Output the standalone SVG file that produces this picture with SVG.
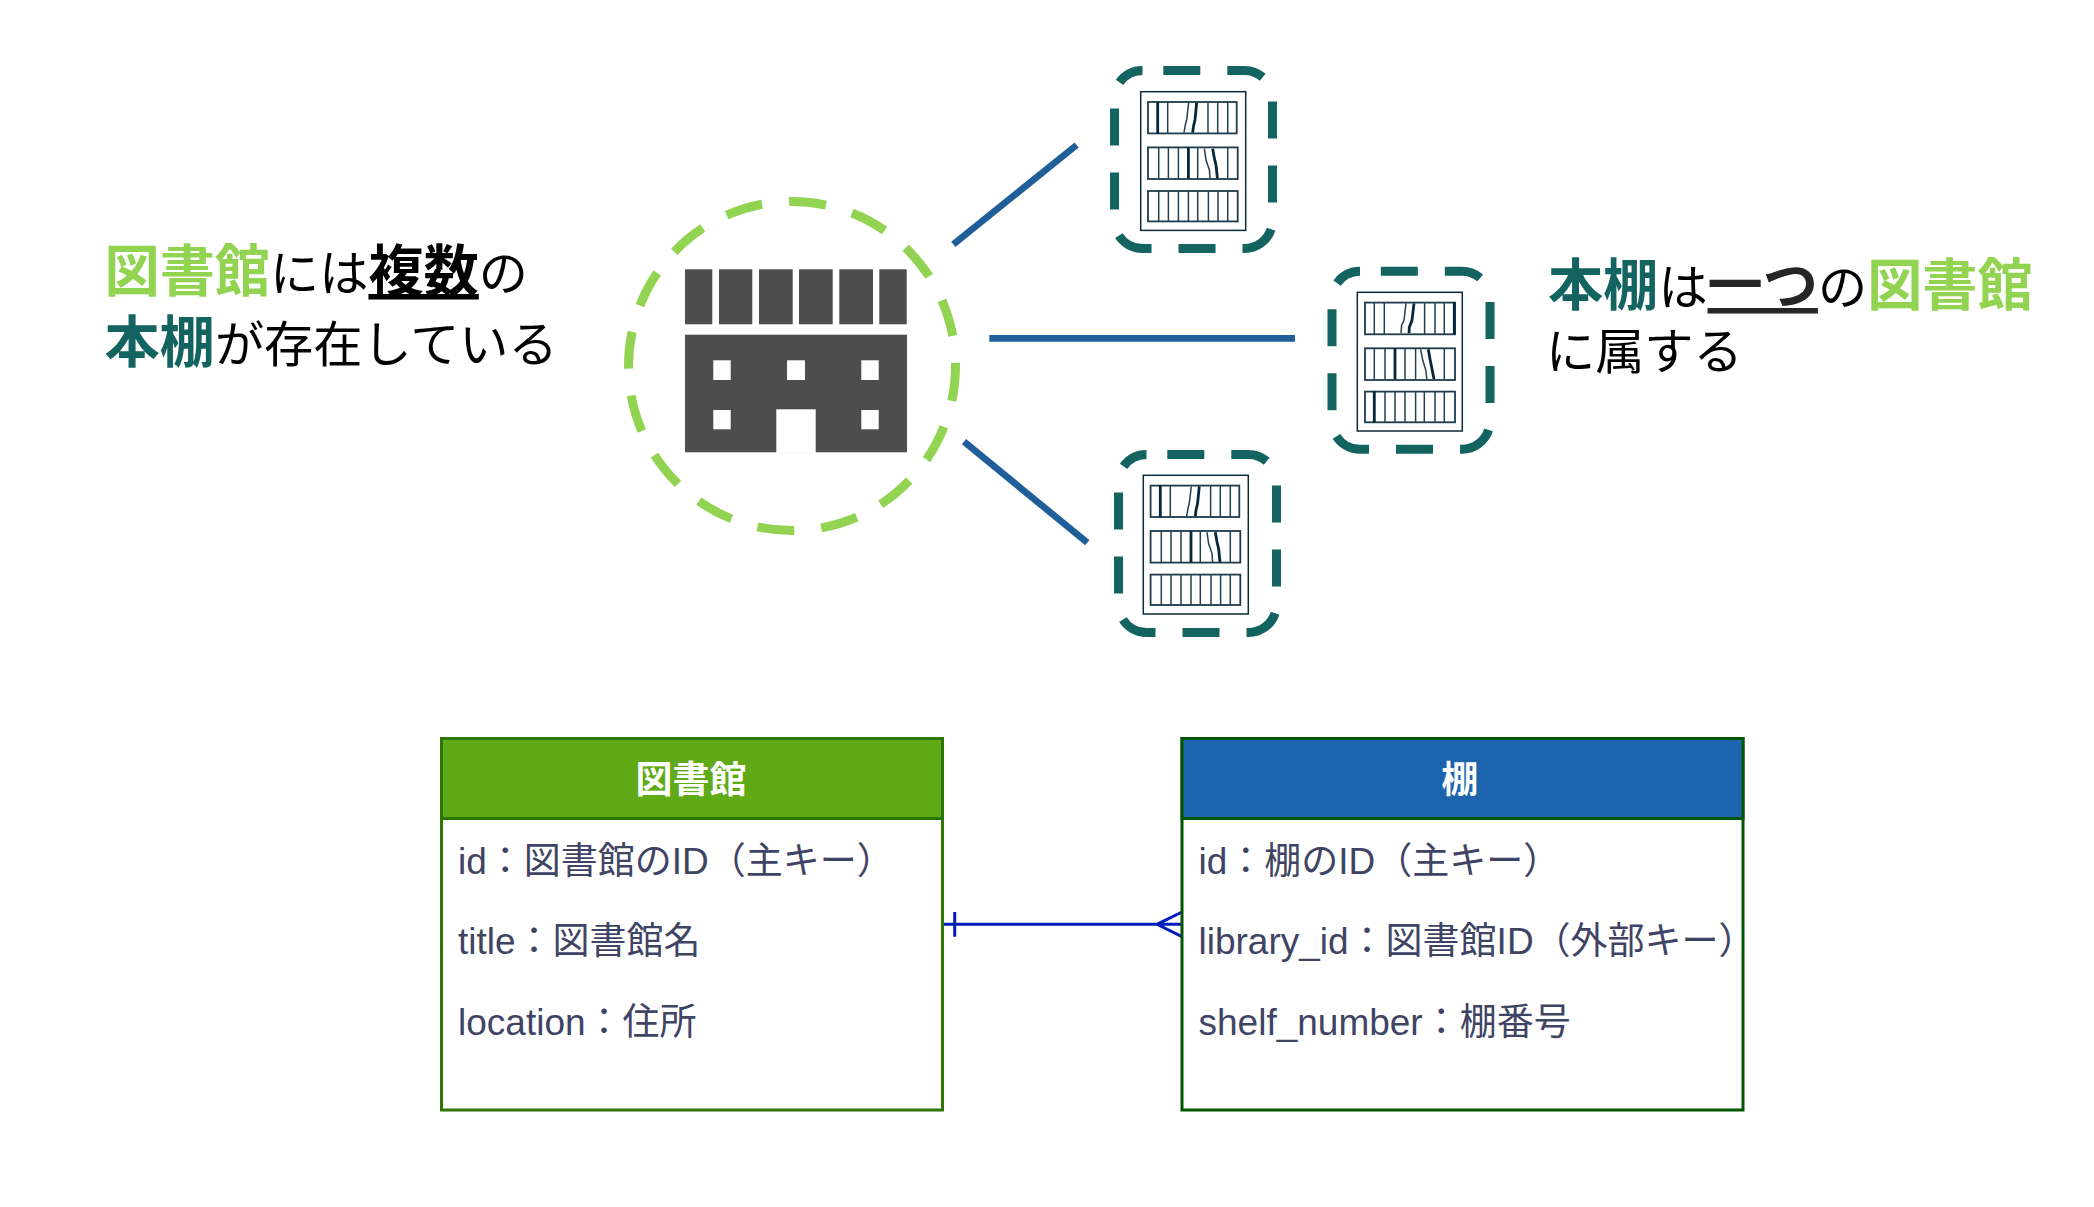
<svg xmlns="http://www.w3.org/2000/svg" xmlns:xlink="http://www.w3.org/1999/xlink" width="2094" height="1207" viewBox="0 0 2094 1207">
<style>
text{font-family:"Liberation Sans","Noto Sans CJK JP",sans-serif}
.big{font-size:49.2px;fill:#000}
.b{font-weight:700;font-size:55.2px}
.lib{fill:#92D451}
.shf{fill:#136360}
.ul{text-decoration:underline;text-decoration-thickness:2.5px;text-underline-offset:6px}
.row{font-size:37px;fill:#3f4464}
.hd{font-size:37px;font-weight:700;fill:#fff;text-anchor:middle}
.frame{fill:none;stroke:#136360;stroke-width:9;stroke-dasharray:37 27;stroke-dashoffset:43.2}
.ring{fill:none;stroke:#92D451;stroke-width:9;stroke-dasharray:37.2 27.1;stroke-dashoffset:2}
.cab{fill:#fff;stroke:#0b2a3a;stroke-width:1.5}
.bay{fill:none;stroke:#1d3b4b;stroke-width:1.8}
.v{stroke:#24404f;stroke-width:1.5;fill:none}
.t{stroke:#06263a;stroke-width:2.8;fill:none}
.link{stroke:#205E99;stroke-width:6.7;fill:none}
.er{stroke:#001DBC;stroke-width:3;fill:none}
.bld{fill:#4D4D4D}
.win{fill:#fff}
.gt{fill:#60A917;stroke:#2D7600;stroke-width:3}
.bt{fill:#1C64AE;stroke:#005700;stroke-width:3}
.gb{fill:#fff;stroke:#2D7600;stroke-width:3}
.bb{fill:#fff;stroke:#005700;stroke-width:3}
</style>
<defs>
<rect id="frame" class="frame" x="0" y="0" width="158" height="178" rx="28" ry="28"/>
<g id="shelfA">
<rect class="cab" x="0" y="0" width="105" height="138.7"/>
<rect class="bay" x="7.3" y="10.3" width="88.7" height="31.4"/>
<rect class="bay" x="7.3" y="55.7" width="89.7" height="31.6"/>
<rect class="bay" x="7.3" y="99.3" width="89.7" height="30.4"/>
<path class="t" d="M17 10V42M47.7 56V87"/>
<path class="v" d="M27 10V42M67.3 10V42M77 10V42M87 10V42M18 56V87M27.7 56V87M37.7 56V87M57 56V87M87 56V87M18 99V130M27.7 99V130M37.7 99V130M47.7 99V130M57 99V130M67.7 99V130M77.3 99V130M87 99V130"/>
<path class="v" d="M48 11L46 28L44.700 33L43.300 41M63.700 57L65.300 68.300L68.700 78.300L69.300 86.700"/>
<path class="t" d="M56 11L54.300 28L52.700 35L52 41M72 57L73.700 66.700L75.300 73.300L76.700 86.700"/>
</g>
<g id="shelfB">
<rect class="cab" x="0" y="0" width="105" height="138.700"/>
<rect class="bay" x="7.700" y="10.300" width="90" height="31.700"/>
<rect class="bay" x="7.700" y="56" width="90" height="31.700"/>
<rect class="bay" x="7.700" y="99.300" width="90" height="30.700"/>
<path class="t" d="M97 10V42M37.700 56V87M17 99V130"/>
<path class="v" d="M17 10V42M27 10V42M67.300 10V42M77.700 10V42M87 10V42M17 56V87M27.700 56V87M47.700 56V87M58.300 56V87M87 56V87M27.700 99V130M37.700 99V130M47.700 99V130M58.300 99V130M67 99V130M77.700 99V130M87 99V130"/>
<path class="v" d="M48.700 11L46.700 28L44.300 33L43.700 41M63.300 57L65.500 68L68.500 78L69.500 86.700"/>
<path class="t" d="M56.700 11L54.700 28L52 35L51.700 41M71 57L72.700 66.700L74 73.300L76.700 86.700"/>
</g>
</defs>
<rect width="2094" height="1207" fill="#fff"/>

<g id="connectors">
<line class="link" x1="953.300" y1="244.300" x2="1076.700" y2="145"/>
<line class="link" x1="989.300" y1="338.300" x2="1295" y2="338.300"/>
<line class="link" x1="964" y1="441.700" x2="1087.300" y2="542.700"/>
<path class="er" d="M942.300 924.300H1182M954.700 912V936.700M1182 912L1157 924.300L1182 936.700"/>
</g>

<g id="library">
<ellipse class="ring" cx="792" cy="366" rx="163.500" ry="164.500"/>
<g class="bld">
<rect x="685" y="269.300" width="27.300" height="55"/>
<rect x="719" y="269.300" width="33.300" height="55"/>
<rect x="759" y="269.300" width="33.700" height="55"/>
<rect x="799" y="269.300" width="33.700" height="55"/>
<rect x="839.300" y="269.300" width="33.700" height="55"/>
<rect x="879.300" y="269.300" width="27.400" height="55"/>
<rect x="685" y="334.700" width="222" height="117.600"/>
</g>
<g class="win">
<rect x="713.300" y="360.300" width="17.400" height="19.700"/>
<rect x="787" y="360.300" width="18" height="19.700"/>
<rect x="861.300" y="360.300" width="17.400" height="19.700"/>
<rect x="713.300" y="410" width="17.400" height="19.300"/>
<rect x="861.300" y="410" width="17.400" height="19.300"/>
<rect x="776.300" y="409.300" width="39.400" height="43.500"/>
</g>
</g>

<g id="shelf-top">
<use xlink:href="#frame" href="#frame" x="1114.500" y="70.500"/>
<use xlink:href="#shelfA" href="#shelfA" x="1140.700" y="91.700"/>
</g>
<g id="shelf-middle">
<use xlink:href="#frame" href="#frame" x="1332" y="271.200"/>
<use xlink:href="#shelfB" href="#shelfB" x="1357.300" y="292.300"/>
</g>
<g id="shelf-bottom">
<use xlink:href="#frame" href="#frame" x="1118.500" y="454.500"/>
<use xlink:href="#shelfA" href="#shelfA" x="1143.300" y="475.300"/>
</g>

<g id="caption-left">
<text x="104.500" y="291" class="big"><tspan class="b lib">図書館</tspan>には<tspan class="b ul">複数</tspan>の</text>
<text x="104.500" y="362" class="big"><tspan class="b shf">本棚</tspan>が存在している</text>
</g>
<g id="caption-right">
<text x="1548" y="305" class="big"><tspan class="b shf">本棚</tspan>は<tspan class="b ul" style="fill:#262626">一つ</tspan>の<tspan class="b lib">図書館</tspan></text>
<text x="1546" y="369" class="big">に属する</text>
</g>

<g id="table-library">
<rect class="gb" x="441.500" y="738.500" width="501" height="371.500"/>
<rect class="gt" x="441.500" y="738.500" width="501" height="80"/>
<text class="hd" x="691" y="793">図書館</text>
<text class="row" x="458" y="873.500">id：図書館のID（主キー）</text>
<text class="row" x="458" y="954">title：図書館名</text>
<text class="row" x="458" y="1034.500">location：住所</text>
</g>
<g id="table-shelf">
<rect class="bb" x="1182" y="738.500" width="561" height="371.500"/>
<rect class="bt" x="1182" y="738.500" width="561" height="80"/>
<text class="hd" x="1460" y="793">棚</text>
<text class="row" x="1198.500" y="873.500">id：棚のID（主キー）</text>
<text class="row" x="1198.500" y="954">library_id：図書館ID（外部キー）</text>
<text class="row" x="1198.500" y="1034.500">shelf_number：棚番号</text>
</g>
</svg>
